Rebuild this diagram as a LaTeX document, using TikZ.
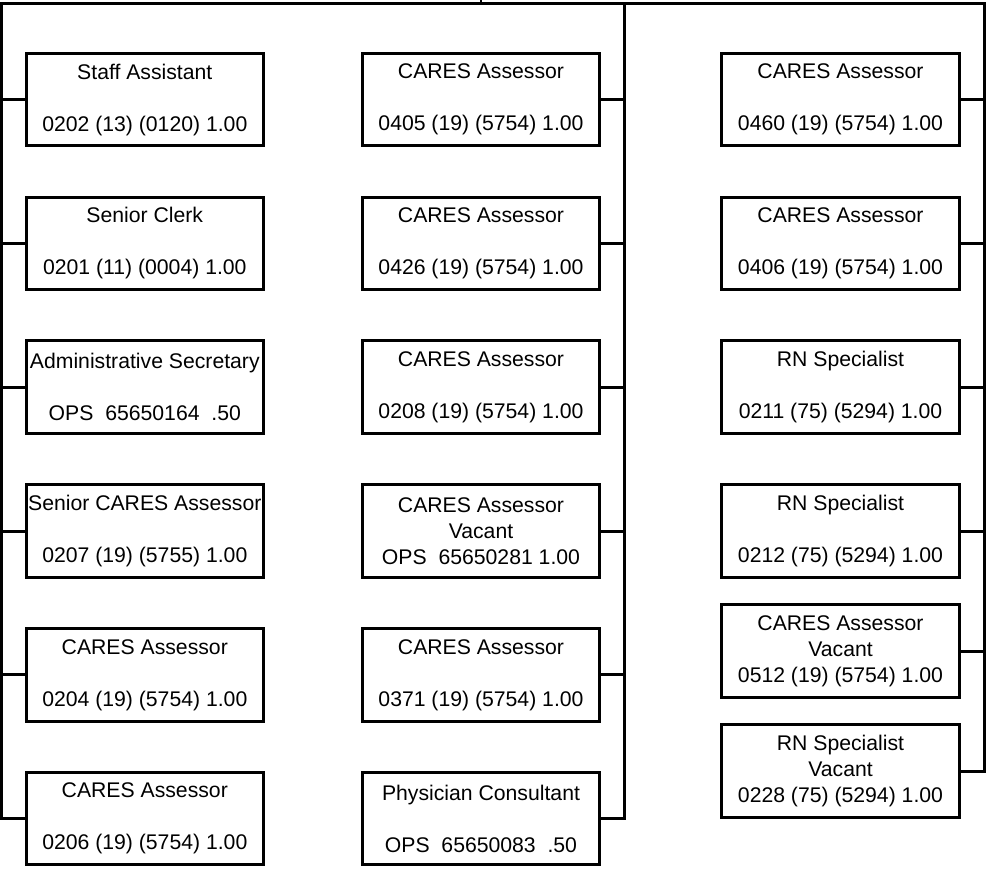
\documentclass[tikz,border=0pt]{standalone}
\usepackage{fontspec}
\setmainfont{Liberation Sans}
\begin{document}
\begin{tikzpicture}[x=1pt,y=-1pt,
  post/.style={draw, line width=3pt, minimum width=237.5pt, minimum height=92.5pt,
    inner sep=0pt, align=center, font=\fontsize{21.2}{26}\selectfont},
  wire/.style={line width=3pt},
  bus/.style={line width=2.4pt}]
\useasboundingbox (0,0) rectangle (986,871);

% left column
\node[post] (a1) at (144.8, 99.6) {Staff Assistant\\[26pt]0202 (13) (0120) 1.00};
\node[post] (a2) at (144.8,243.4) {Senior Clerk\\[26pt]0201 (11) (0004) 1.00};
\node[post] (a3) at (144.8,387.2) {Administrative Secretary\\[26pt]OPS\ \ 65650164\ \ .50};
\node[post] (a4) at (144.8,531.0) {Senior CARES Assessor\\[26pt]0207 (19) (5755) 1.00};
\node[post] (a5) at (144.8,674.8) {CARES Assessor\\[26pt]0204 (19) (5754) 1.00};
\node[post] (a6) at (144.8,818.6) {CARES Assessor\\[26pt]0206 (19) (5754) 1.00};

% middle column
\node[post] (b1) at (481, 99.6) {CARES Assessor\\[26pt]0405 (19) (5754) 1.00};
\node[post] (b2) at (481,243.4) {CARES Assessor\\[26pt]0426 (19) (5754) 1.00};
\node[post] (b3) at (481,387.2) {CARES Assessor\\[26pt]0208 (19) (5754) 1.00};
\node[post] (b4) at (481,531.0) {CARES Assessor\\Vacant\\OPS\ \ 65650281 1.00};
\node[post] (b5) at (481,674.8) {CARES Assessor\\[26pt]0371 (19) (5754) 1.00};
\node[post] (b6) at (481,818.6) {Physician Consultant\\[26pt]OPS\ \ 65650083\ \ .50};

% right column
\node[post] (c1) at (840.5, 99.6) {CARES Assessor\\[26pt]0460 (19) (5754) 1.00};
\node[post] (c2) at (840.5,243.4) {CARES Assessor\\[26pt]0406 (19) (5754) 1.00};
\node[post] (c3) at (840.5,387.2) {RN Specialist\\[26pt]0211 (75) (5294) 1.00};
\node[post] (c4) at (840.5,531.0) {RN Specialist\\[26pt]0212 (75) (5294) 1.00};
\node[post] (c5) at (840.5,651.0) {CARES Assessor\\Vacant\\0512 (19) (5754) 1.00};
\node[post] (c6) at (840.5,771.0) {RN Specialist\\Vacant\\0228 (75) (5294) 1.00};

% bus along the top
\coordinate (hub)  at (481,0);
\coordinate (barL) at (1.8,3.5);
\coordinate (barM) at (624.3,3.5);
\coordinate (barR) at (984.2,3.5);
\draw[bus] (0,3.5) -- (barR) -- (986,3.5);
\draw[bus] (hub) -- (hub |- barL);

% left feeder
\draw[wire] (barL) -- (barL |- a6.west) -- (a6.west);
\foreach \n in {a1,a2,a3,a4,a5}
  \draw[wire] (barL |- \n.west) -- (\n.west);

% middle feeder
\draw[wire] (barM) -- (barM |- b6.east) -- (b6.east);
\foreach \n in {b1,b2,b3,b4,b5}
  \draw[wire] (barM |- \n.east) -- (\n.east);

% right feeder
\draw[wire] (barR) -- (barR |- c6.east) -- (c6.east);
\foreach \n in {c1,c2,c3,c4,c5}
  \draw[wire] (barR |- \n.east) -- (\n.east);
\end{tikzpicture}
\end{document}
